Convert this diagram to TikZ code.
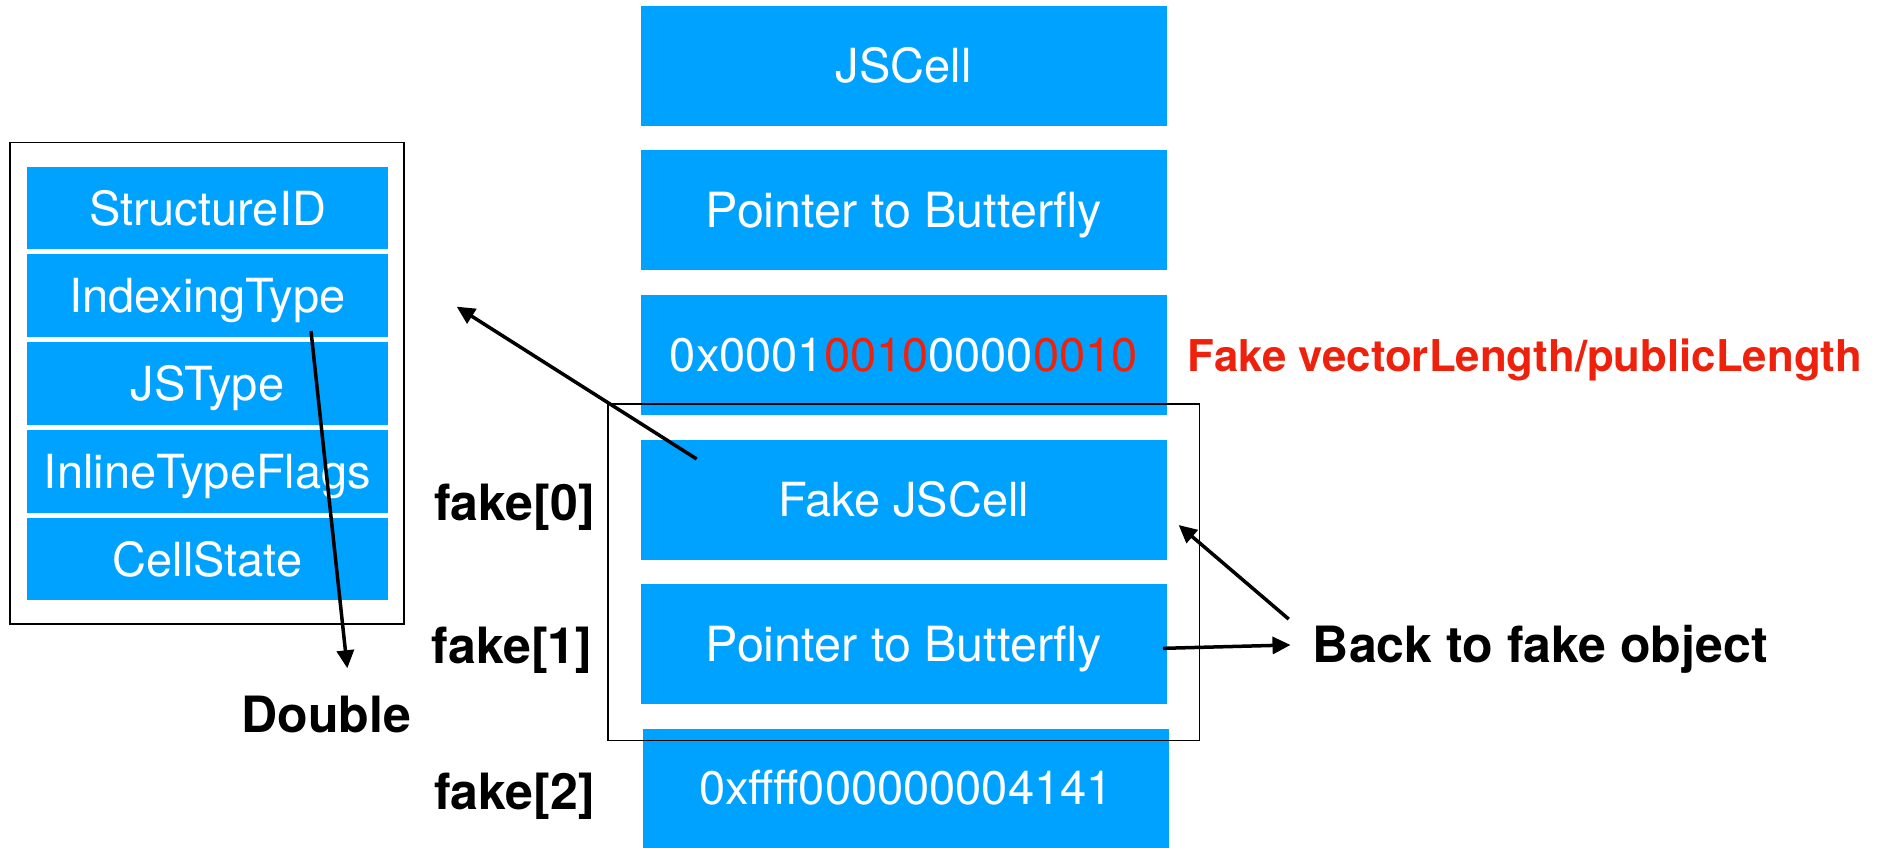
\documentclass[tikz,border=0pt]{standalone}
\usepackage{fontspec}
\setmainfont{TeX Gyre Heros}
\usetikzlibrary{arrows.meta}
\definecolor{kblue}{HTML}{00A2FF}
\definecolor{kred}{HTML}{EE220C}
\begin{document}
\begin{tikzpicture}[x=1.2022pt,y=-1.2022pt,
  cell/.style={fill=kblue, text=white, inner sep=0pt, minimum width=526pt, minimum height=120.2pt,
    font=\fontsize{47}{50}\selectfont, text height=33.7pt, text depth=0pt},
  bigcell/.style={cell, font=\fontsize{48.5}{52}\selectfont, text height=34.8pt},
  field/.style={fill=kblue, text=white, inner sep=0pt, minimum width=360.4pt, minimum height=82.4pt,
    font=\fontsize{47}{50}\selectfont, text height=33.7pt, text depth=0pt},
  lbl/.style={font=\fontsize{50}{54}\selectfont\bfseries, anchor=base, inner sep=0pt},
  outline/.style={draw=black, line width=1.8pt},
  arr/.style={line width=3.5pt, -{Triangle[length=18pt,width=17pt]}}
]
\useasboundingbox (0,0) rectangle (1568,705);

% right column
\node[cell] (jscell) at (751.75,55) {JSCell};
\node[bigcell] (ptr) at (751.75,175) {Pointer to Butterfly};
\node[cell] (len) at (751.75,295) {0x0001\textcolor{kred}{0010}0000\textcolor{kred}{0010}};
\node[cell] (fcell) at (751.75,416) {Fake JSCell};
\node[bigcell] (fptr) at (751.75,536) {Pointer to Butterfly};
\node[cell, minimum height=119pt] (fval) at (753.5,655.5) {0xffff000000004141};

% outline around fake object
\node[outline, inner sep=0pt, minimum width=591.7pt, minimum height=336.6pt] (fakebox) at (751.7,476) {};

% left structure
\node[outline, inner sep=0pt, minimum width=394pt, minimum height=481.5pt] (hdr) at (172.15,318.85) {};
\node[field] (sid) at (172.6,173.2) {StructureID};
\node[field] (itype) at (172.6,245.65) {IndexingType};
\node[field] (jtype) at (172.6,318.85) {JSType};
\node[field] (iflags) at (172.6,392.1) {InlineTypeFlags};
\node[field] (cstate) at (172.6,465.15) {CellState};

% labels
\node[lbl] (f0) at (428,433) {fake[0]};
\node[lbl] (f1) at (426,552) {fake[1]};
\node[lbl] (f2) at (428,673) {fake[2]};
\node[lbl] (dbl) at (271.5,609) {Double};
\node[lbl, anchor=base west] (back) at (1092,551) {Back to fake object};
\node[font=\fontsize{43.8}{47}\selectfont\bfseries, text=kred, anchor=base west, inner sep=0pt] (fvl) at (988,309) {Fake vectorLength/publicLength};

% arrows
\coordinate (a1s) at (579.5,381.8);
\coordinate (a1e) at (379.9,255.1);
\coordinate (a2s) at (258.7,275.3);
\coordinate (a2e) at (288.9,555.9);
\coordinate (a3s) at (1072,515);
\coordinate (a3e) at (980.4,436.7);
\coordinate (a4s) at (967.4,539.3);
\coordinate (a4e) at (1073.5,536.5);
\draw[arr] (a1s) -- (a1e);
\draw[arr] (a2s) -- (a2e);
\draw[arr] (a3s) -- (a3e);
\draw[arr] (a4s) -- (a4e);
\end{tikzpicture}
\end{document}
